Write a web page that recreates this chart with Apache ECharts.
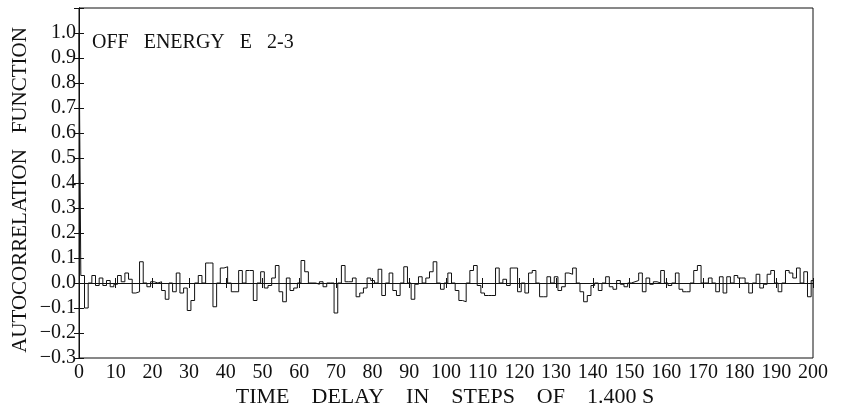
<!DOCTYPE html>
<html>
<head>
<meta charset="utf-8">
<script src="https://cdn.jsdelivr.net/npm/echarts@6/dist/echarts.min.js"></script>
<style>
  html, body { margin: 0; padding: 0; background: #fff; }
  #chart { width: 857px; height: 410px; }
</style>
</head>
<body>
<div id="chart"></div>
<script>
// Autocorrelation estimate, one value per lag step (lag 0 .. 200)
const acf = [
  1.0, 0.03, -0.1, 0.0, 0.03, -0.01, 0.02, -0.01, 0.01, -0.015,
  -0.005, 0.03, 0.005, 0.04, 0.015, -0.04, -0.035, 0.085, 0.0, -0.015,
  0.005, 0.0, 0.005, -0.03, -0.065, 0.0, -0.035, 0.04, -0.04, -0.02,
  -0.11, -0.07, 0.0, 0.03, 0.0, 0.08, 0.08, -0.095, 0.0, 0.06,
  0.065, 0.0, -0.035, -0.035, 0.05, 0.0, 0.05, 0.05, -0.07, 0.0,
  0.045, -0.02, -0.01, 0.02, 0.07, -0.035, -0.075, 0.02, -0.03, -0.02,
  0.0, 0.09, 0.045, 0.0, 0.0, -0.005, 0.005, -0.015, 0.0, 0.0,
  -0.12, 0.0, 0.07, 0.005, 0.005, 0.02, -0.055, -0.04, -0.02, 0.02,
  0.01, 0.0, 0.055, -0.05, 0.0, 0.04, -0.03, -0.05, 0.0, 0.065,
  0.0, -0.065, -0.005, 0.025, 0.0, 0.02, 0.045, 0.085, 0.0, -0.025,
  0.0, 0.04, 0.0, -0.03, -0.07, -0.075, 0.0, 0.05, 0.07, -0.01,
  -0.04, -0.05, -0.05, -0.05, 0.06, 0.0, 0.015, -0.01, 0.06, 0.06,
  -0.035, 0.0, -0.04, 0.04, 0.05, 0.0, -0.055, -0.055, 0.025, 0.0,
  0.025, -0.03, -0.015, 0.04, 0.035, 0.06, 0.0, -0.035, -0.075, -0.05,
  -0.01, 0.0, -0.03, 0.0, 0.025, -0.015, -0.025, 0.01, -0.005, -0.015,
  0.0, 0.005, 0.01, 0.04, -0.035, 0.02, -0.005, 0.005, 0.0, 0.05,
  0.0, -0.01, 0.0, 0.04, -0.025, -0.035, -0.035, 0.0, 0.05, 0.07,
  0.0, 0.0, 0.02, 0.0, -0.035, 0.025, -0.04, 0.025, 0.0, 0.03,
  0.02, 0.02, 0.0, -0.04, 0.0, 0.035, -0.02, -0.005, 0.035, 0.05,
  0.0, -0.035, 0.0, 0.05, 0.04, 0.02, 0.06, 0.0, 0.045, -0.055,
  0.01
];

const panelLabel = 'OFF   ENERGY   E   2-3';
const xTitle = 'TIME    DELAY    IN    STEPS    OF    1.400 S';
const yTitle = 'AUTOCORRELATION   FUNCTION';

const serif = '"Liberation Serif", "DejaVu Serif", serif';
const ink = '#111';

const points = acf.map((v, lag) => [lag, v]);

const chart = echarts.init(document.getElementById('chart'), null, { renderer: 'canvas' });

const tickStyle = { show: true, inside: true, length: 5, lineStyle: { color: ink, width: 1 } };

chart.setOption({
  animation: false,
  backgroundColor: '#fff',
  grid: { left: 79, right: 44, top: 8, bottom: 52, show: true, borderColor: ink, borderWidth: 1 },
  xAxis: [
    {
      type: 'value', min: 0, max: 200, interval: 10,
      axisLine: { show: true, lineStyle: { color: ink } },
      axisTick: tickStyle,
      splitLine: { show: false },
      axisLabel: { color: ink, fontFamily: serif, fontSize: 20, margin: 5 }
    },
    {
      type: 'value', position: 'top', min: 0, max: 200, interval: 10,
      axisLine: { show: true, lineStyle: { color: ink } },
      axisTick: tickStyle,
      splitLine: { show: false },
      axisLabel: { show: false }
    }
  ],
  yAxis: [
    {
      type: 'value', min: -0.3, max: 1.1, interval: 0.1,
      axisLine: { show: true, lineStyle: { color: ink } },
      axisTick: tickStyle,
      splitLine: { show: false },
      axisLabel: {
        color: ink, fontFamily: serif, fontSize: 20, margin: 3,
        formatter: v => (v > 1.05 ? '' : (v < -0.005 ? '\u2212' + Math.abs(v).toFixed(1) : Math.abs(v).toFixed(1)))
      }
    },
    {
      type: 'value', position: 'right', min: -0.3, max: 1.1, interval: 0.1,
      axisLine: { show: true, lineStyle: { color: ink } },
      axisTick: tickStyle,
      splitLine: { show: false },
      axisLabel: { show: false }
    }
  ],
  graphic: [
    {
      type: 'text', left: 92, top: 33,
      style: { text: panelLabel, font: '20px ' + serif, fill: ink }
    },
    {
      type: 'text', x: 445, y: 397,
      style: { text: xTitle, font: '22px ' + serif, fill: ink, textAlign: 'center', textVerticalAlign: 'middle' }
    },
    {
      type: 'text', x: 20, y: 190, rotation: Math.PI / 2,
      style: { text: yTitle, font: '21px ' + serif, fill: ink, textAlign: 'center', textVerticalAlign: 'middle' }
    }
  ],
  series: [
    {
      type: 'line',
      xAxisIndex: 0, yAxisIndex: 0,
      data: points,
      step: 'middle',
      showSymbol: false,
      lineStyle: { color: ink, width: 1 },
      silent: true
    }
  ]
});
</script>
</body>
</html>
